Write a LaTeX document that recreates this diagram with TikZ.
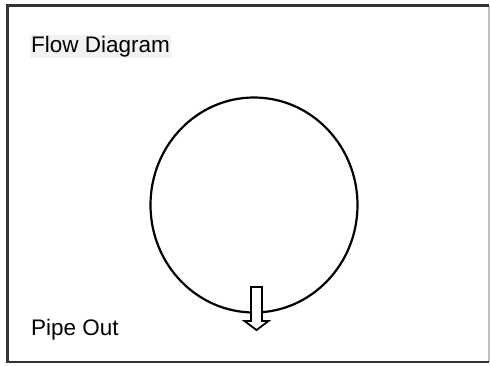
\documentclass[tikz,border=0pt]{standalone}
\usepackage{fontspec}
\setmainfont{Liberation Sans}
\usetikzlibrary{positioning}

\begin{document}
\begin{tikzpicture}[x=1pt,y=-1pt,
    frame/.style={draw=black!80,line width=2.4pt},
    label/.style={anchor=base west,inner sep=1pt,font=\fontsize{22.5}{27}\selectfont},
    pipe/.style={draw,line width=2.2pt},
    outarrow/.style={draw,fill=white,line width=1.8pt,line join=miter},
]
\useasboundingbox (0,0) rectangle (490,365);
\draw[black!25,line width=1.2pt] (489,5.5) -- (489,362);
\draw[frame] (489,5.5) -- (7.5,5.5) -- (7.5,362) -- (489,362);

\node[label,fill=black!5] (title) at (30,52) {Flow Diagram};
\node[label] (pipeout) at (30,335) {Pipe Out};

% loop of pipe
\draw[pipe] (254,205) ellipse [x radius=103.5,y radius=107.5];

% outlet
\coordinate (outlet) at (256.5,287);
\draw[outarrow] (outlet) ++(-5.5,0) -- ++(11,0) -- ++(0,34) -- ++(6.5,0)
    -- ++(-12,9) -- ++(-12,-9) -- ++(6.5,0) -- cycle;
\end{tikzpicture}
\end{document}
